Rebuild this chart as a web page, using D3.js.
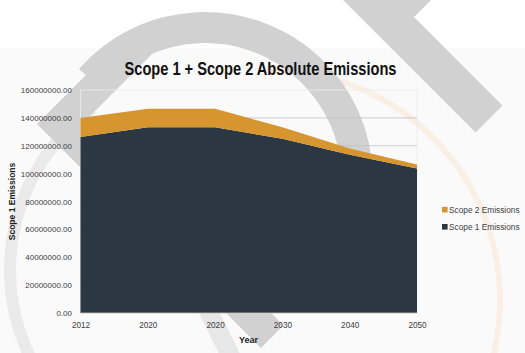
<!DOCTYPE html>
<html>
<head>
<meta charset="utf-8">
<script src="https://cdn.jsdelivr.net/npm/d3@7"></script>
<style>
  html, body { margin: 0; padding: 0; background: #fff; }
  svg { display: block; }
  text { font-family: "Liberation Sans", Arial, sans-serif; }
</style>
</head>
<body>
<div id="chart"></div>
<script>
// category labels (the source really repeats 2020)
var years = ["2012", "2020", "2020", "2030", "2040", "2050"];
var scope1 = [126300000, 133300000, 133300000, 125000000, 113500000, 103700000];
var scope2 = [13700000, 13200000, 13200000, 8200000, 4500000, 2800000];
var yTicks = [0, 20000000, 40000000, 60000000, 80000000, 100000000, 120000000, 140000000, 160000000];
var seriesNames = ["Scope 2 Emissions", "Scope 1 Emissions"];
var seriesColors = ["#d6952f", "#2c3744"];

var width = 525, height = 353;
var svg = d3.select("#chart").append("svg")
  .attr("width", width)
  .attr("height", height);

// page background, slightly grey below the top strip
svg.append("rect").attr("x", 0).attr("y", 0).attr("width", width).attr("height", height).attr("fill", "#ffffff");
svg.append("rect").attr("x", 0).attr("y", 48).attr("width", width).attr("height", height - 48).attr("fill", "#fafafa");

// watermark behind the chart
var wm = svg.append("g").attr("class", "watermark");
// faint orange ring
wm.append("path")
  .attr("d", d3.arc()({innerRadius: 227, outerRadius: 233, startAngle: 0, endAngle: Math.PI}))
  .attr("transform", "translate(270,300)")
  .attr("fill", "#f9efe4");
// light grey ring on the left
wm.append("path")
  .attr("d", d3.arc()({innerRadius: 194, outerRadius: 206, startAngle: -Math.PI * 0.95, endAngle: -Math.PI * 0.2}))
  .attr("transform", "translate(210,270)")
  .attr("fill", "#eaeaea");
// light diagonal at the bottom
wm.append("polygon")
  .attr("points", "195,305 216,305 243,360 222,360")
  .attr("fill", "#e7e7e7");
// dark grey arc
wm.append("path")
  .attr("d", d3.arc()({innerRadius: 137, outerRadius: 168, startAngle: -Math.PI * 0.27, endAngle: Math.PI * 0.75}))
  .attr("transform", "translate(205,180)")
  .attr("fill", "#d1d1d1");
// left chevron + lower band
wm.append("polygon")
  .attr("points", "37,124 128,33 152,54 82,124 283.5,325.5 261,348")
  .attr("fill", "#d1d1d1");
// upper right band
wm.append("polygon")
  .attr("points", "338,-5 436,-5 414,17 502.5,105.5 475.5,132.5")
  .attr("fill", "#d1d1d1");

// scales
var x = d3.scaleLinear().domain([0, years.length - 1]).range([80.5, 417]);
var y = d3.scaleLinear().domain([0, 160000000]).range([313, 90]);

// plot border + gridlines
svg.append("rect")
  .attr("x", x(0)).attr("y", y(160000000))
  .attr("width", x(years.length - 1) - x(0)).attr("height", y(0) - y(160000000))
  .attr("fill", "none").attr("stroke", "#ebebeb").attr("stroke-width", 0.8);

svg.append("g")
  .selectAll("line")
  .data(yTicks.slice(1, -1))
  .enter().append("line")
  .attr("x1", x(0)).attr("x2", x(years.length - 1))
  .attr("y1", function(d) { return y(d); })
  .attr("y2", function(d) { return y(d); })
  .attr("stroke", "#c2c2c2")
  .attr("stroke-width", 0.8);

// stacked areas
var rows = years.map(function(yr, i) { return {i: i, s1: scope1[i], s2: scope2[i]}; });
var stack = d3.stack().keys(["s1", "s2"]);
var layers = stack(rows);

var area = d3.area()
  .x(function(d) { return x(d.data.i); })
  .y0(function(d) { return y(d[0]); })
  .y1(function(d) { return y(d[1]); })
  .curve(d3.curveLinear);

svg.append("g")
  .selectAll("path")
  .data(layers)
  .enter().append("path")
  .attr("d", area)
  .attr("fill", function(d) { return d.key === "s1" ? seriesColors[1] : seriesColors[0]; });

// x baseline
svg.append("line")
  .attr("x1", x(0)).attr("x2", x(years.length - 1))
  .attr("y1", y(0)).attr("y2", y(0))
  .attr("stroke", "#c4c4c4").attr("stroke-width", 0.8);

// axes
var yAxis = d3.axisLeft(y)
  .tickValues(yTicks)
  .tickFormat(d3.format(".2f"))
  .tickSize(0)
  .tickPadding(8.5);
var gy = svg.append("g").attr("transform", "translate(" + x(0) + ",0)").call(yAxis);
gy.select(".domain").remove();
gy.selectAll("text").attr("font-size", "8px").attr("fill", "#404040")
  .style("font-family", "'Liberation Sans', Arial, sans-serif");

var xAxis = d3.axisBottom(x)
  .tickValues(d3.range(years.length))
  .tickFormat(function(i) { return years[i]; })
  .tickSize(0)
  .tickPadding(9);
var gx = svg.append("g").attr("transform", "translate(0," + y(0) + ")").call(xAxis);
gx.select(".domain").remove();
gx.selectAll("text").attr("font-size", "8.2px").attr("fill", "#404040")
  .style("font-family", "'Liberation Sans', Arial, sans-serif");

// titles
svg.append("text")
  .attr("x", 260.5).attr("y", 74.5)
  .attr("text-anchor", "middle")
  .attr("font-size", "18px")
  .attr("font-weight", "bold")
  .attr("fill", "#111")
  .attr("textLength", 272)
  .attr("lengthAdjust", "spacingAndGlyphs")
  .style("font-family", "'Liberation Sans Narrow', 'Liberation Sans', Arial, sans-serif")
  .text("Scope 1 + Scope 2 Absolute Emissions");

svg.append("text")
  .attr("transform", "translate(15,201.5) rotate(-90)")
  .attr("text-anchor", "middle")
  .attr("font-size", "8.5px")
  .attr("font-weight", "bold")
  .attr("fill", "#222")
  .text("Scope 1 Emissions");

svg.append("text")
  .attr("x", 248.5).attr("y", 343)
  .attr("text-anchor", "middle")
  .attr("font-size", "9px")
  .attr("font-weight", "bold")
  .attr("fill", "#222")
  .text("Year");

// legend
var legend = svg.append("g")
  .selectAll("g")
  .data(seriesNames)
  .enter().append("g")
  .attr("transform", function(d, i) { return "translate(442," + (209.7 + i * 17.1) + ")"; });
legend.append("rect")
  .attr("x", 0).attr("y", -2.8)
  .attr("width", 5.6).attr("height", 5.6)
  .attr("fill", function(d, i) { return seriesColors[i]; });
legend.append("text")
  .attr("x", 7).attr("y", 3)
  .attr("font-size", "8.3px")
  .attr("fill", "#404040")
  .text(function(d) { return d; });
</script>
</body>
</html>
